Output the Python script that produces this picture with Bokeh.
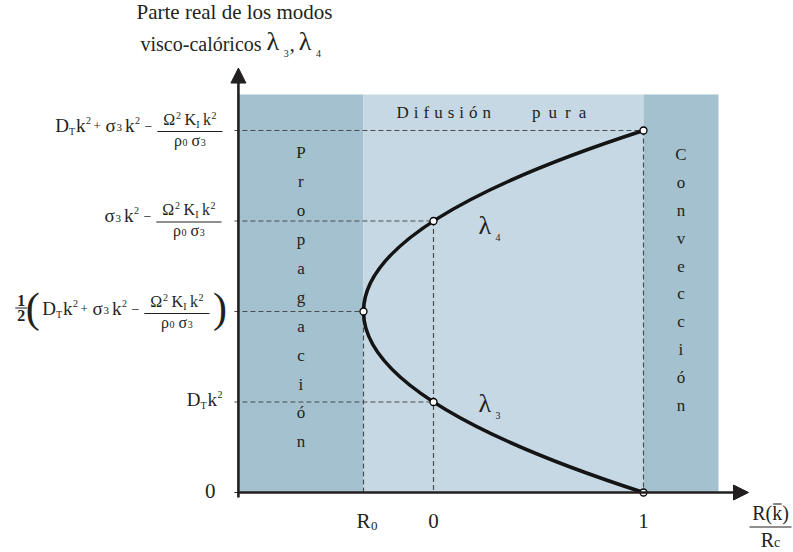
from bokeh.plotting import figure
from bokeh.models import Range1d, Arrow, NormalHead, ColumnDataSource
from bokeh.core.properties import value
from bokeh.embed import file_html
from bokeh.resources import INLINE

# ---------------------------------------------------------------- data
R0 = -1.0 / 3.0                      # vertex of the parabola on the R/Rc axis
x_tick_values = [R0, 0.0, 1.0]
x_tick_text = ["R", "0", "1"]        # "R" carries a subscript 0
y_levels = [0, 1, 2, 3, 4]           # symbolic levels on the vertical axis

# marked points of the two branches (lambda_3 below, lambda_4 above)
pts_x = [1.0, 0.0, R0, 0.0, 1.0]
pts_y = [0, 1, 2, 3, 4]

# extent of the drawing (data units)
axis_x = -0.929
tick_x = -0.948
x_region_max = 1.357
y_region_max = 4.398
x_arrow_tip = 1.50
y_arrow_tip = 4.69

regime_left = [axis_x, R0, 1.0]
regime_right = [R0, 1.0, x_region_max]
regime_names = ["Propagación", "Difusión pura", "Convección"]

# ---------------------------------------------------------------- styling
FONT = "Liberation Serif"
INK = "#231f20"
DARK = "#a3c1ce"
LIGHT = "#c6d8e4"
DASH = "#4d4d4d"

W, H = 793, 552
OX, SX = 433.0, 210.0     # pixel column of x=0, pixels per unit
OY, SY = 492.0, 90.5      # pixel row of y=0, pixels per unit
LIFT = 0.33               # raise text anchors by this fraction of the font size


def X(px):
    return (px - OX) / SX


def Y(py):
    return (OY - py) / SY


def px_of(x):
    return OX + x * SX


def py_of(y):
    return OY - y * SY


p = figure(width=W, height=H,
           x_range=Range1d(X(0), X(W)), y_range=Range1d(Y(H), Y(0)),
           x_axis_type=None, y_axis_type=None,
           toolbar_location=None, output_backend="svg",
           min_border=0, outline_line_color=None,
           background_fill_color="white", border_fill_color="white")

# regimes
p.quad(left=regime_left, right=regime_right, bottom=0, top=y_region_max,
       fill_color=[DARK, LIGHT, DARK], line_color=None)

# dashed guides from the axis to each marked point and down to the R axis
hx0, hx1, hy = [], [], []
for lv in y_levels[1:]:
    hx0.append(tick_x)
    hx1.append(pts_x[pts_y.index(lv)])
    hy.append(lv)
p.segment(x0=hx0, y0=hy, x1=hx1, y1=hy, line_color=DASH, line_width=1.2,
          line_dash="5 3")
vx = [pts_x[2], pts_x[3], pts_x[4]]
vy = [pts_y[2], pts_y[3], pts_y[4]]
p.segment(x0=vx, y0=vy, x1=vx, y1=[0] * 3, line_color=DASH, line_width=1.2,
          line_dash="5 3")

# the parabola through the marked points (quadratic Bezier = exact parabola)
p.quadratic(x0=[pts_x[0]], y0=[pts_y[0]], x1=[pts_x[-1]], y1=[pts_y[-1]],
            cx=[2 * pts_x[2] - pts_x[0]], cy=[pts_y[2]],
            line_color="#141414", line_width=3.6)

# axes with arrow heads
p.segment(x0=[tick_x], y0=[0], x1=[axis_x], y1=[0], line_color=INK, line_width=1.2)
p.add_layout(Arrow(end=NormalHead(size=15, fill_color=INK, line_color=INK),
                   x_start=axis_x, y_start=Y(497), x_end=axis_x, y_end=y_arrow_tip,
                   line_color=INK, line_width=2.6))
p.add_layout(Arrow(end=NormalHead(size=15, fill_color=INK, line_color=INK),
                   x_start=axis_x, y_start=0, x_end=x_arrow_tip, y_end=0,
                   line_color=INK, line_width=2.6))

p.scatter(pts_x, pts_y, size=7, fill_color="white", line_color="black",
          line_width=1.3)

# ---------------------------------------------------------------- text helpers
texts = {"left": [], "center": [], "right": []}
bold = []
rules = []   # short fraction bars: (px0, px1, py)

EM = {"D": .722, "T": .611, "k": .5, "2": .5, "+": .564, "σ": .55, "3": .5,
      "−": .564, "Ω": .77, "K": .722, "I": .333, "ρ": .5, "0": .5, "1": .5,
      "R": .667, "c": .444, "λ": .55, "4": .5, ",": .25, "(": .333, ")": .333,
      "i": .278, "f": .333, "u": .5, "s": .389, "ó": .5, "n": .5, "p": .5,
      "r": .333, "a": .444}


def tw(t, fs):
    return sum(EM.get(ch, .5) for ch in t) * fs


def put(px, py, t, fs, align="left"):
    texts[align].append(dict(x=X(px), y=Y(py - LIFT * fs), text=t, fs=f"{fs}px"))


def run_width(items):
    return sum(g + tw(t, fs) for t, fs, rise, g in items)


def place_run(items, x, base):
    for t, fs, rise, g in items:
        x += g
        put(x, base - rise, t, fs)
        x += tw(t, fs)
    return x


SUM = [("D", 19, 0, 0), ("T", 10, -3, 0), ("k", 19, 0, 1), ("2", 10, 8, .5),
       ("+", 13, 1, 2.5), ("σ", 19, 0, 4.5), ("3", 11, 0, .5), ("k", 19, 0, 3),
       ("2", 10, 8, .5)]
SIGMA = [("σ", 19, 0, 0), ("3", 11, 0, .5), ("k", 19, 0, 3), ("2", 10, 8, .5)]
MINUS = [("−", 14, 1, 4.5)]
DTK = [("D", 19, 0, 0), ("T", 10, -3, 0), ("k", 19, 0, 1), ("2", 10, 8, .5)]
NUM = [("Ω", 16, 0, 0), ("2", 10, 6, .5), ("K", 16, 0, 3.5), ("I", 10, -3, 0),
       ("k", 16, 0, 3.5), ("2", 10, 6, .5)]
DEN = [("ρ", 16, 0, 0), ("0", 10, 0, .5), ("σ", 16, 0, 4), ("3", 10, 0, .5)]
FRAC_PAD = 6
FRAC_GAP = 5


def frac_width():
    return max(run_width(NUM), run_width(DEN)) + 2 * FRAC_PAD


def place_frac(x, line_py):
    w = frac_width()
    rules.append((x, x + w, line_py))
    place_run(NUM, x + (w - run_width(NUM)) / 2, line_py - 7)
    place_run(DEN, x + (w - run_width(DEN)) / 2, line_py + 14)
    return x + w


# level 4 : D_T k^2 + sigma_3 k^2 - Omega^2 K_I k^2 / (rho_0 sigma_3)
lp = py_of(y_levels[4])
head = SUM + MINUS
x = 222 - (run_width(head) + FRAC_GAP + frac_width())
x = place_run(head, x, lp + 1)
place_frac(x + FRAC_GAP, lp + 1)

# level 3 : sigma_3 k^2 - Omega^2 K_I k^2 / (rho_0 sigma_3)
lp = py_of(y_levels[3])
head = SIGMA + MINUS
x = 221 - (run_width(head) + FRAC_GAP + frac_width())
x = place_run(head, x, lp + 1)
place_frac(x + FRAC_GAP, lp + 1)

# level 2 : 1/2 ( ... )
lp = py_of(y_levels[2])
PAREN = 11
head = SUM + MINUS
inner = run_width(head) + FRAC_GAP + frac_width()
x = 225 - (PAREN + 4 + inner + 5 + PAREN)
hx = x - 6
put(x + PAREN / 2, lp + 10, "(", 42, "center")
x = place_run(head, x + PAREN + 4, lp + 3)
x = place_frac(x + FRAC_GAP, lp + 2)
put(x + 5 + PAREN / 2, lp + 10, ")", 42, "center")
bold.append(dict(x=X(hx), y=Y(lp - 6 - LIFT * 16), text="1", fs="16px"))
bold.append(dict(x=X(hx), y=Y(lp + 9 - LIFT * 16), text="2", fs="16px"))
rules.append((hx - 6, hx + 6, lp - 3.5))

# level 1 : D_T k^2
lp = py_of(y_levels[1])
place_run(DTK, 222 - run_width(DTK), lp + 4)

# level 0
put(215, py_of(y_levels[0]) + 5, "0", 21, "right")

# horizontal tick labels
for xv, t in zip(x_tick_values, x_tick_text):
    put(px_of(xv), 527, t, 21, "center")
    if t == "R":
        put(px_of(xv) + tw("R", 21) / 2 + 0.5, 530, "0", 13)

# horizontal axis title R(k)/Rc
put(770, 519, "R(k)", 20, "center")
kx = 770 - tw("R(k)", 20) / 2 + tw("R(", 20)
rules.append((kx + 1, kx + 9.5, 503.5))
rules.append((749, 791, 526.5))
rx = 770 - (tw("R", 20) + tw("c", 14)) / 2
put(rx, 546.5, "R", 20)
put(rx + tw("R", 20), 546.5, "c", 14)

# vertical axis title
put(234, 18, "Parte real de los modos", 21, "center")
x = 140
put(x, 50, "visco-calóricos", 20)
x += 121 + 5
put(x, 50, "λ", 26)
x += tw("λ", 26) + 3
put(x, 56, "3", 10)
x += 6
put(x, 50, ",", 20)
x += 9
put(x, 50, "λ", 26)
x += tw("λ", 26) + 3
put(x, 56, "4", 10)

# branch names next to the curve
for i, sub in ((3, "4"), (1, "3")):
    bx = px_of(pts_x[i]) + 45
    by = py_of(pts_y[i]) + 13 + (0 if sub == "4" else -3)
    put(bx, by, "λ", 26)
    put(bx + 17, by + 7, sub, 10)

# regime names
cx = (px_of(regime_left[0]) + px_of(regime_right[0])) / 2
for i, ch in enumerate(regime_names[0]):
    put(cx, 158 + i * 28.9, ch, 17, "center")
cx = (px_of(regime_left[2]) + px_of(regime_right[2])) / 2
for i, ch in enumerate(regime_names[2]):
    put(cx, 160 + i * 27.8, ch, 17, "center")
x = 396
for word, track in zip(regime_names[1].split(" "), (5, 8)):
    if word != regime_names[1].split(" ")[0]:
        x += 36
    for ch in word:
        put(x, 118, ch, 17)
        x += tw(ch, 17) + track

# ---------------------------------------------------------------- draw text
p.segment(x0=[X(a) for a, b, c in rules], x1=[X(b) for a, b, c in rules],
          y0=[Y(c) for a, b, c in rules], y1=[Y(c) for a, b, c in rules],
          line_color=INK, line_width=1.1)

for align, rows in texts.items():
    if not rows:
        continue
    src = ColumnDataSource({k: [r[k] for r in rows] for k in ("x", "y", "text", "fs")})
    p.text(x="x", y="y", text="text", source=src, text_font_size="fs",
           text_font=value(FONT), text_color=INK, text_align=align,
           text_baseline="alphabetic")

src = ColumnDataSource({k: [r[k] for r in bold] for k in ("x", "y", "text", "fs")})
p.text(x="x", y="y", text="text", source=src, text_font_size="fs",
       text_font=value(FONT), text_font_style="bold", text_color=INK,
       text_align="center", text_baseline="alphabetic")

open("out.html", "w").write(file_html(p, INLINE))
